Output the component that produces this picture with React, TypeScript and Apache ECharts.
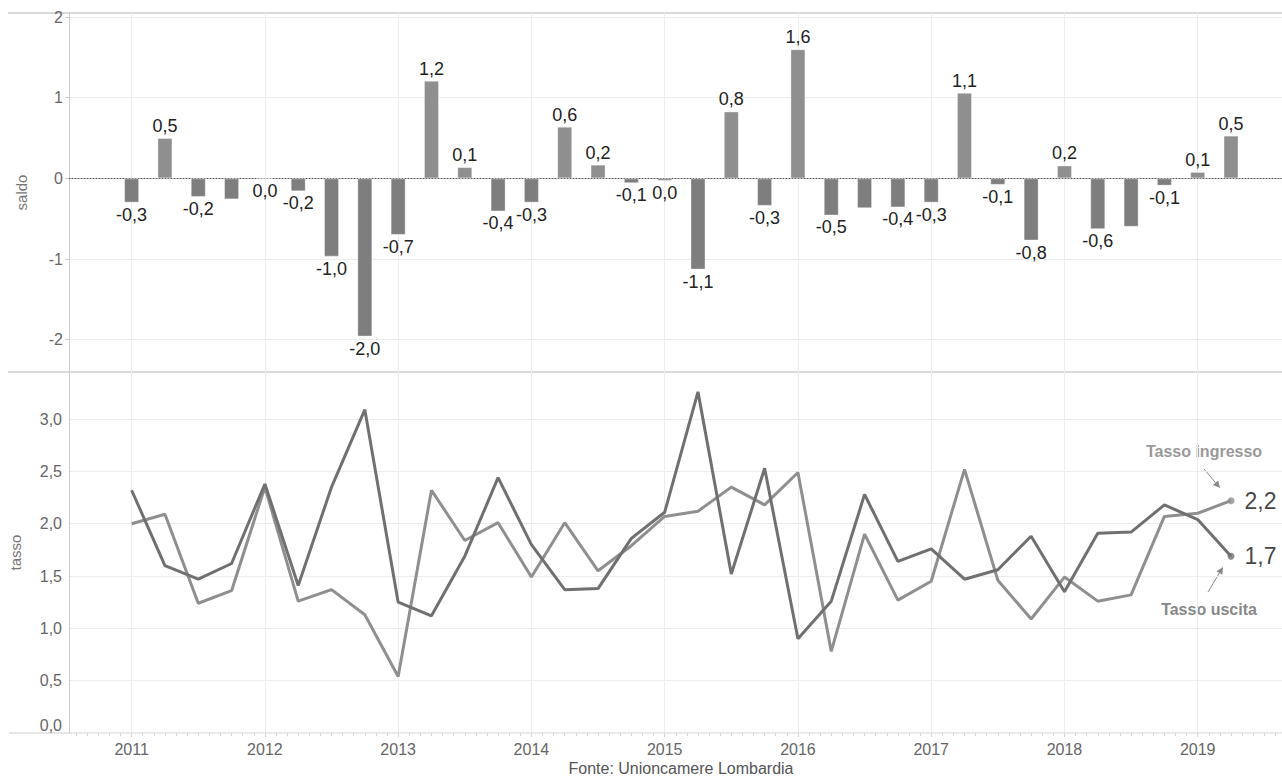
import React, { useEffect, useRef } from "react";
import * as echarts from "echarts";

// Quarters 2011 Q1 … 2019 Q2, placed on a numeric axis (one unit per quarter)
const quarters: string[] = [
  "2011T1", "2011T2", "2011T3", "2011T4",
  "2012T1", "2012T2", "2012T3", "2012T4",
  "2013T1", "2013T2", "2013T3", "2013T4",
  "2014T1", "2014T2", "2014T3", "2014T4",
  "2015T1", "2015T2", "2015T3", "2015T4",
  "2016T1", "2016T2", "2016T3", "2016T4",
  "2017T1", "2017T2", "2017T3", "2017T4",
  "2018T1", "2018T2", "2018T3", "2018T4",
  "2019T1", "2019T2",
];

const yearLabels: string[] = ["2011", "2012", "2013", "2014", "2015", "2016", "2017", "2018", "2019"];

// Saldo (ingresso − uscita)
const saldo: number[] = [
  -0.3, 0.5, -0.23, -0.26,
  -0.01, -0.16, -0.97, -1.96,
  -0.7, 1.21, 0.14, -0.41,
  -0.3, 0.64, 0.17, -0.06,
  -0.03, -1.13, 0.83, -0.34,
  1.6, -0.46, -0.37, -0.36,
  -0.3, 1.06, -0.08, -0.77,
  0.16, -0.63, -0.6, -0.09,
  0.08, 0.53,
];

// Bars whose value label is not printed
const saldoHiddenLabels: string[] = ["2011T4", "2016T3", "2018T3"];

const tassoIngresso: number[] = [
  2.0, 2.09, 1.24, 1.36,
  2.35, 1.26, 1.37, 1.13,
  0.54, 2.32, 1.84, 2.01,
  1.49, 2.01, 1.55, 1.79,
  2.07, 2.12, 2.35, 2.18,
  2.49, 0.78, 1.9, 1.27,
  1.45, 2.52, 1.46, 1.09,
  1.49, 1.26, 1.32, 2.07,
  2.1, 2.22,
];

const tassoUscita: number[] = [
  2.32, 1.6, 1.47, 1.62,
  2.38, 1.41, 2.35, 3.09,
  1.25, 1.12, 1.69, 2.44,
  1.8, 1.37, 1.38, 1.86,
  2.11, 3.26, 1.52, 2.53,
  0.9, 1.26, 2.28, 1.64,
  1.76, 1.47, 1.56, 1.88,
  1.35, 1.91, 1.92, 2.18,
  2.04, 1.69,
];

const saldoTicks: number[] = [-2, -1, 0, 1, 2];
const tassoTicks: number[] = [0, 0.5, 1, 1.5, 2, 2.5, 3];

const FONT = "'Liberation Sans', Arial, sans-serif";
const fmt1 = (v: number) => {
  const s = (Math.abs(v) < 0.05 ? 0 : v).toFixed(1);
  return s.replace(".", ",");
};

// Year positions on the quarter axis (year N starts at index 4*(N-2011))
const yearPos = yearLabels.map((y) => (Number(y) - 2011) * 4);
const monthPos: number[] = [];
for (let m = -5; m <= 103; m++) monthPos.push(m / 3);

const X_MIN = -1.88;
const X_MAX = 34.53;

function arrow(x1: number, y1: number, x2: number, y2: number, color: string) {
  const ang = Math.atan2(y2 - y1, x2 - x1);
  const L = 7;
  const W = 3.5;
  const bx = x2 - L * Math.cos(ang);
  const by = y2 - L * Math.sin(ang);
  const px = -Math.sin(ang) * W;
  const py = Math.cos(ang) * W;
  return [
    { type: "line", shape: { x1, y1, x2: bx, y2: by }, style: { stroke: color, lineWidth: 1 }, silent: true },
    {
      type: "polygon",
      shape: { points: [[x2, y2], [bx + px, by + py], [bx - px, by - py]] },
      style: { fill: color },
      silent: true,
    },
  ];
}

export default function App() {
  const ref = useRef<HTMLDivElement>(null);

  useEffect(() => {
    document.body.style.margin = "0";
    if (!ref.current) return;
    const chart = echarts.init(ref.current, undefined, { renderer: "svg" });

    const idx = quarters.map((_, i) => i);
    const barData = saldo.map((v, i) => ({
      value: [idx[i], v],
      itemStyle: { color: v < 0 ? "#7e7e7e" : "#8f8f8f" },
      label: {
        show: !saldoHiddenLabels.includes(quarters[i]),
        position: v < 0 ? "bottom" : "top",
      },
    }));
    const last = quarters.length - 1;

    const yLabelStyle = { color: "#666", fontSize: 16, fontFamily: FONT };

    chart.setOption({
      animation: false,
      textStyle: { fontFamily: FONT },
      grid: [
        { left: 69, right: 0, top: 13, height: 359 },
        { left: 69, right: 0, top: 372, height: 361 },
      ],
      xAxis: [
        {
          type: "value",
          gridIndex: 0,
          min: X_MIN,
          max: X_MAX,
          axisLine: { show: true, onZero: true, lineStyle: { color: "#555", type: [1, 2], width: 1 } },
          axisTick: { show: false, customValues: yearPos },
          axisLabel: { show: false, customValues: yearPos },
          splitLine: { show: true, lineStyle: { color: "#ececec", width: 1 } },
        },
        {
          type: "value",
          gridIndex: 1,
          position: "bottom",
          min: X_MIN,
          max: X_MAX,
          axisLine: { show: false },
          axisTick: { show: true, customValues: yearPos, length: 4, lineStyle: { color: "#ccc" } },
          axisLabel: {
            show: true,
            customValues: yearPos,
            formatter: (v: number) => yearLabels[Math.round(v / 4)] ?? "",
            margin: 8,
            color: "#666",
            fontSize: 16,
            fontFamily: FONT,
          },
          splitLine: { show: true, lineStyle: { color: "#ececec", width: 1 } },
        },
        {
          // monthly minor ticks along the bottom axis
          type: "value",
          gridIndex: 1,
          position: "bottom",
          min: X_MIN,
          max: X_MAX,
          axisLine: { show: false },
          axisTick: { show: true, customValues: monthPos, length: 3, lineStyle: { color: "#d6d6d6" } },
          axisLabel: { show: false, customValues: monthPos },
          splitLine: { show: false },
        },
      ],
      yAxis: [
        {
          type: "value",
          gridIndex: 0,
          min: -2.4,
          max: 2.05,
          name: "saldo",
          nameLocation: "middle",
          nameGap: 40,
          nameTextStyle: { color: "#777", fontSize: 15, fontFamily: FONT },
          axisLine: { show: true, onZero: false, lineStyle: { color: "#ccc" } },
          axisTick: { show: true, length: 4, customValues: saldoTicks, lineStyle: { color: "#ccc" } },
          axisLabel: { customValues: saldoTicks, formatter: (v: number) => String(v), margin: 6, ...yLabelStyle },
          splitLine: { show: true, lineStyle: { color: "#ececec" } },
        },
        {
          type: "value",
          gridIndex: 1,
          min: 0,
          max: 3.45,
          name: "tasso",
          nameLocation: "middle",
          nameGap: 46,
          nameTextStyle: { color: "#777", fontSize: 15, fontFamily: FONT },
          axisLine: { show: true, onZero: false, lineStyle: { color: "#ccc" } },
          axisTick: { show: false, customValues: tassoTicks },
          axisLabel: {
            customValues: tassoTicks,
            formatter: (v: number) => fmt1(v),
            margin: 7,
            verticalAlignMinLabel: "bottom",
            ...yLabelStyle,
          },
          splitLine: { show: true, lineStyle: { color: "#ececec" } },
        },
      ],
      series: [
        {
          name: "saldo",
          type: "bar",
          xAxisIndex: 0,
          yAxisIndex: 0,
          barWidth: 15,
          data: barData,
          itemStyle: { borderColor: "rgba(255,255,255,0.35)", borderWidth: 1 },
          label: {
            show: true,
            distance: 3,
            color: "#222",
            fontSize: 18,
            fontFamily: FONT,
            formatter: (p: any) => fmt1(p.value[1]),
          },
        },
        {
          name: "Tasso ingresso",
          type: "line",
          xAxisIndex: 1,
          yAxisIndex: 1,
          symbol: "none",
          data: tassoIngresso.map((v, i) => [idx[i], v]),
          lineStyle: { color: "#8f8f8f", width: 3 },
          z: 2,
        },
        {
          name: "Tasso uscita",
          type: "line",
          xAxisIndex: 1,
          yAxisIndex: 1,
          symbol: "none",
          data: tassoUscita.map((v, i) => [idx[i], v]),
          lineStyle: { color: "#707070", width: 3 },
          z: 3,
        },
        {
          name: "ultimo",
          type: "scatter",
          xAxisIndex: 1,
          yAxisIndex: 1,
          symbol: "circle",
          symbolSize: 7,
          z: 4,
          data: [
            { value: [idx[last], tassoIngresso[last]], itemStyle: { color: "#8f8f8f" } },
            { value: [idx[last], tassoUscita[last]], itemStyle: { color: "#707070" } },
          ],
          label: {
            show: true,
            position: "right",
            distance: 10,
            color: "#111",
            fontSize: 23,
            fontFamily: FONT,
            formatter: (p: any) => fmt1(p.value[1]),
          },
        },
      ],
      graphic: [
        { type: "line", shape: { x1: 8, y1: 13, x2: 1282, y2: 13 }, style: { stroke: "#d9d9d9", lineWidth: 2 }, silent: true },
        { type: "line", shape: { x1: 8, y1: 372, x2: 1282, y2: 372 }, style: { stroke: "#d9d9d9", lineWidth: 2 }, silent: true },
        { type: "line", shape: { x1: 9, y1: 733, x2: 1282, y2: 733 }, style: { stroke: "#cfcfcf", lineWidth: 1 }, silent: true },
        {
          type: "text",
          x: 1204,
          y: 451,
          style: {
            text: "Tasso ingresso",
            fill: "#999",
            font: `bold 16px ${FONT}`,
            textAlign: "center",
            textVerticalAlign: "middle",
          },
          silent: true,
        },
        ...arrow(1204, 469, 1220, 488, "#8a8a8a"),
        {
          type: "text",
          x: 1209,
          y: 609,
          style: {
            text: "Tasso uscita",
            fill: "#888",
            font: `bold 16px ${FONT}`,
            textAlign: "center",
            textVerticalAlign: "middle",
          },
          silent: true,
        },
        ...arrow(1208, 592, 1223, 567, "#8a8a8a"),
        {
          type: "text",
          x: 681,
          y: 768,
          style: {
            text: "Fonte: Unioncamere Lombardia",
            fill: "#555",
            font: `16px ${FONT}`,
            textAlign: "center",
            textVerticalAlign: "middle",
          },
          silent: true,
        },
      ],
    });

    return () => chart.dispose();
  }, []);

  return <div ref={ref} style={{ width: 1282, height: 778 }} />;
}
